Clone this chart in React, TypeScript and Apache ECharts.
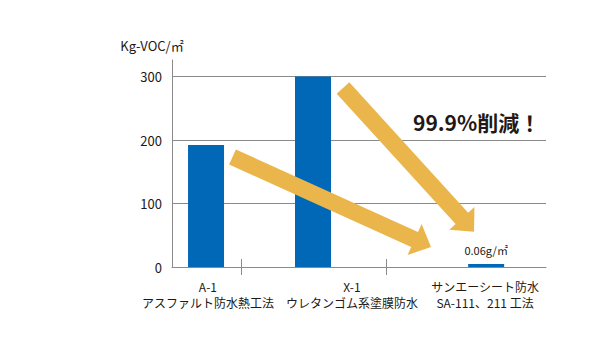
import React, { useEffect, useRef } from "react";
import * as echarts from "echarts";

// ---- data ----
const categories = [
  "A-1\nアスファルト防水熱工法",
  "X-1\nウレタンゴム系塗膜防水",
  "サンエーシート防水\nSA-111、211 工法",
];
const values = [192, 300, 0.00006]; // Kg-VOC/㎡
const barPositions = [9.1, 37.7, 84.0]; // position of each bar on the x scale (0-100)
const labelPositions = [9.6, 48.1, 83.7]; // position of each category label
const tickPositions = [18.45, 57.2]; // separators between categories
const valueLabels = ["", "", "0.06g/㎡"];
const yName = "Kg-VOC/㎡";
const headline = "99.9%削減！";

const TEXT = "#231815";
const GRID = "#8a8a8a";
const BAR = "#0068b7";
const ARROW = "#eab64c";
const FONT = "'Noto Sans CJK JP', 'Noto Sans', sans-serif";

function arrowPoints(
  tail: number[],
  tip: number[],
  shaftW: number,
  headW: number,
  headL: number
) {
  const dx = tip[0] - tail[0];
  const dy = tip[1] - tail[1];
  const len = Math.hypot(dx, dy);
  const ux = dx / len;
  const uy = dy / len;
  const px = -uy;
  const py = ux;
  const bx = tip[0] - ux * headL;
  const by = tip[1] - uy * headL;
  return [
    [tail[0] + (px * shaftW) / 2, tail[1] + (py * shaftW) / 2],
    [bx + (px * shaftW) / 2, by + (py * shaftW) / 2],
    [bx + (px * headW) / 2, by + (py * headW) / 2],
    [tip[0], tip[1]],
    [bx - (px * headW) / 2, by - (py * headW) / 2],
    [bx - (px * shaftW) / 2, by - (py * shaftW) / 2],
    [tail[0] - (px * shaftW) / 2, tail[1] - (py * shaftW) / 2],
  ];
}

export default function App() {
  const ref = useRef<HTMLDivElement>(null);

  useEffect(() => {
    document.body.style.margin = "0";
    if (!ref.current) return;
    const chart = echarts.init(ref.current, null, { renderer: "svg" });
    const nearestLabel = (v: number) => {
      let best = -1;
      let bd = Infinity;
      labelPositions.forEach((p, i) => {
        const d = Math.abs(p - v);
        if (d < bd) {
          bd = d;
          best = i;
        }
      });
      return bd < 0.5 ? categories[best] : "";
    };

    chart.setOption({
      animation: false,
      textStyle: { fontFamily: FONT },
      grid: { left: 172, right: 54, top: 60, bottom: 84, containLabel: false },
      xAxis: [
        {
          type: "value",
          min: 0,
          max: 100,
          splitLine: { show: false },
          axisLine: { show: true, lineStyle: { color: GRID, width: 1 } },
          axisTick: {
            show: true,
            customValues: tickPositions,
            length: 8,
            lineStyle: { color: GRID, width: 1 },
          },
          axisLabel: {
            show: true,
            customValues: labelPositions,
            formatter: (v: number) => nearestLabel(v),
            color: TEXT,
            fontSize: 12,
            lineHeight: 16,
            margin: 11,
            fontFamily: FONT,
            showMinLabel: true,
            showMaxLabel: true,
          },
        },
        {
          type: "value",
          min: 0,
          max: 100,
          position: "bottom",
          splitLine: { show: false },
          axisLine: { show: false },
          axisLabel: { show: false },
          axisTick: {
            show: true,
            inside: true,
            customValues: tickPositions,
            length: 8,
            lineStyle: { color: GRID, width: 1 },
          },
        },
      ],
      yAxis: {
        type: "value",
        min: 0,
        max: 326,
        interval: 100,
        name: yName,
        nameLocation: "end",
        nameGap: 8,
        nameTextStyle: {
          color: TEXT,
          fontSize: 13,
          fontFamily: FONT,
          align: "center",
          padding: [0, 40, 0, 0],
        },
        axisLine: { show: true, lineStyle: { color: GRID, width: 1 } },
        axisTick: { show: false },
        axisLabel: {
          color: TEXT,
          fontSize: 13,
          margin: 10,
          fontFamily: FONT,
          showMaxLabel: false,
          formatter: (v: number) => (v % 100 === 0 ? String(v) : ""),
        },
        splitLine: {
          show: true,
          showMaxLine: false,
          lineStyle: { color: GRID, width: 1 },
        },
      },
      series: [
        {
          type: "bar",
          xAxisIndex: 0,
          barWidth: 36,
          barMinHeight: 3,
          itemStyle: { color: BAR },
          data: values.map((v, i) => [barPositions[i], v]),
          label: {
            show: true,
            position: "top",
            distance: 9,
            color: TEXT,
            fontSize: 11,
            fontFamily: FONT,
            formatter: (p: any) => valueLabels[p.dataIndex],
          },
        },
      ],
      graphic: [
        {
          type: "polygon",
          z: 100,
          shape: { points: arrowPoints([232.5, 157], [431, 247], 16.5, 34, 18) },
          style: { fill: ARROW },
        },
        {
          type: "polygon",
          z: 100,
          shape: { points: arrowPoints([343, 88], [474, 231.7], 17, 34, 18) },
          style: { fill: ARROW },
        },
        {
          type: "text",
          z: 100,
          left: 413,
          top: 111,
          style: {
            text: headline,
            fill: TEXT,
            font: `bold 21px ${FONT}`,
          },
        },
      ],
    });
    return () => chart.dispose();
  }, []);

  return <div ref={ref} style={{ width: 600, height: 351 }} />;
}
